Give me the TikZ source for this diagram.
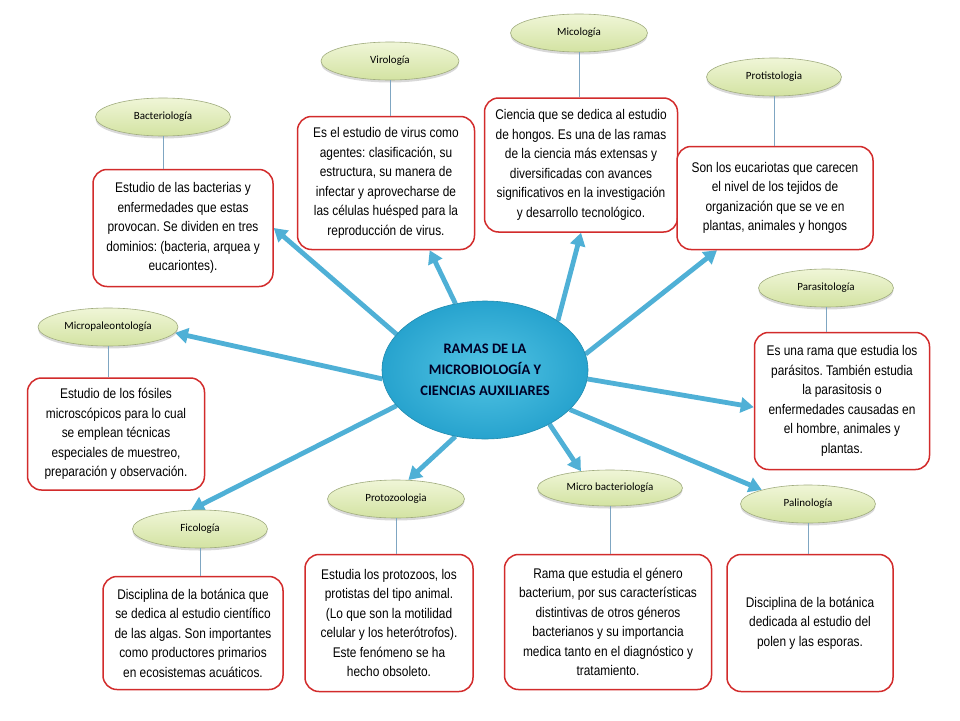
\documentclass[tikz,border=0pt]{standalone}
\usepackage{fontspec}
\setmainfont{Liberation Sans}
\newfontfamily\cajafont[FakeStretch=0.85]{Liberation Sans}
\newfontfamily\ramafont{Carlito}
\usetikzlibrary{shapes.geometric,arrows.meta,shadows,backgrounds}
\frenchspacing

\definecolor{rojocaja}{HTML}{D22B2B}
\definecolor{verderama}{HTML}{E9F2C6}
\definecolor{verdeosc}{HTML}{D3E3A2}
\definecolor{bordeverde}{HTML}{A0AC7E}
\definecolor{azulflecha}{HTML}{4FB0D6}
\definecolor{azulclaro}{HTML}{52C4E4}
\definecolor{azulcentro}{HTML}{27A3CE}
\definecolor{azullinea}{HTML}{7FA6C2}

\tikzset{
  rama/.style={ellipse, draw=bordeverde, line width=0.6pt, top color=verderama!70!white,
    bottom color=verdeosc, minimum width=135pt, minimum height=38pt,
    font=\ramafont\fontsize{11}{13}\selectfont,
    drop shadow={opacity=0.3, shadow xshift=0pt, shadow yshift=-2.5pt}},
  caja/.style={draw=rojocaja, line width=1.5pt, rounded corners=14pt, fill=white,
    align=center, inner sep=0pt, text=black, font=\cajafont\fontsize{14}{19.5}\selectfont},
  centro/.style={ellipse, draw=azulcentro!85!black, line width=0.6pt,
    inner color=azulclaro, outer color=azulcentro, minimum width=206pt,
    minimum height=138pt, align=center, text=black!85!blue,
    font=\ramafont\bfseries\fontsize{14.5}{21}\selectfont},
  enlace/.style={azullinea, line width=0.8pt},
  flecha/.style={azulflecha, line width=4.8pt, -{Triangle[width=15pt,length=13pt]}},
}

\begin{document}
\begin{tikzpicture}[x=1pt,y=-1pt]
  \useasboundingbox (0,0) rectangle (960,720);

  \node[centro] (centro) at (485,370) {RAMAS DE LA\\MICROBIOLOGÍA Y\\CIENCIAS AUXILIARES};

  % arriba
  \node[rama] (bac) at (163,117) {Bacteriología};
  \node[caja, minimum width=180pt, minimum height=117pt] (bacbox) at (183,228)
    {Estudio de las bacterias y\\enfermedades que estas\\provocan. Se dividen en tres\\dominios: (bacteria, arquea y\\eucariontes).};
  \node[rama, minimum width=138pt] (vir) at (390,61) {Virología};
  \node[caja, minimum width=177pt, minimum height=133pt] (virbox) at (386,183)
    {Es el estudio de virus como\\agentes: clasificación, su\\estructura, su manera de\\infectar y aprovecharse de\\las células huésped para la\\reproducción de virus.};
  \node[rama, minimum width=137pt] (mic) at (579,33) {Micología};
  \node[caja, minimum width=193pt, minimum height=134pt] (micbox) at (581,165)
    {Ciencia que se dedica al estudio\\de hongos. Es una de las ramas\\de la ciencia más extensas y\\diversificadas con avances\\significativos en la investigación\\y desarrollo tecnológico.};
  \node[rama] (prot) at (774,77) {Protistologia};
  \node[caja, minimum width=196pt, minimum height=103pt] (protbox) at (775,198)
    {Son los eucariotas que carecen\\el nivel de los tejidos de\\organización que se ve en\\plantas, animales y hongos};

  % lados
  \node[rama] (para) at (826,288) {Parasitología};
  \node[caja, minimum width=175pt, minimum height=137pt] (parabox) at (842,401)
    {Es una rama que estudia los\\parásitos. También estudia\\la parasitosis o\\enfermedades causadas en\\el hombre, animales y\\plantas.};
  \node[rama, minimum width=140pt] (mpal) at (108,327) {Micropaleontología};
  \node[caja, minimum width=177pt, minimum height=112pt] (mpalbox) at (116,434)
    {Estudio de los fósiles\\microscópicos para lo cual\\se emplean técnicas\\especiales de muestreo,\\preparación y observación.};

  % abajo
  \node[rama] (fic) at (200,529) {Ficología};
  \node[caja, minimum width=180pt, minimum height=113pt] (ficbox) at (193,633)
    {Disciplina de la botánica que\\se dedica al estudio científico\\de las algas. Son importantes\\como productores primarios\\en ecosistemas acuáticos.};
  \node[rama, minimum width=137pt] (pzoo) at (396,499) {Protozoologia};
  \node[caja, minimum width=168pt, minimum height=137pt] (pzoobox) at (389,623)
    {Estudia los protozoos, los\\protistas del tipo animal.\\(Lo que son la motilidad\\celular y los heterótrofos).\\Este fenómeno se ha\\hecho obsoleto.};
  \node[rama, minimum width=145pt, minimum height=36pt] (mbac) at (610,488) {Micro bacteriología};
  \node[caja, minimum width=207pt, minimum height=135pt] (mbacbox) at (608,622)
    {Rama que estudia el género\\bacterium, por sus características\\distintivas de otros géneros\\bacterianos y su importancia\\medica tanto en el diagnóstico y\\tratamiento.};
  \node[rama] (pal) at (808,504) {Palinología};
  \node[caja, minimum width=166pt, minimum height=137pt] (palbox) at (810,623)
    {Disciplina de la botánica\\dedicada al estudio del\\polen y las esporas.};

  % lineas finas
  \foreach \r in {bac,vir,mic,prot,para,mpal,fic,pzoo,mbac,pal}
    \draw[enlace] (\r.south) -- (\r.south |- \r box.north);

  \begin{scope}[on background layer]
    \fill[white] (0,0) rectangle (960,720);
    \draw[flecha] (centro.158) -- (bacbox.east);
    \draw[flecha] (centro.114) -- (virbox.-57);
    \draw[flecha] (centro.34) -- (micbox.south);
    \draw[flecha] (centro.9) -- (protbox.-138);
    \draw[flecha] (centro.-5) -- (parabox.184);
    \draw[flecha] (centro.185) -- (mpal.-5);
    \draw[flecha] (centro.202) -- (fic.115);
    \draw[flecha] (centro.246) -- (pzoo.57);
    \draw[flecha] (centro.-40) -- (mbac.150);
    \draw[flecha] (centro.-25) -- (pal.163);
  \end{scope}
\end{tikzpicture}
\end{document}
